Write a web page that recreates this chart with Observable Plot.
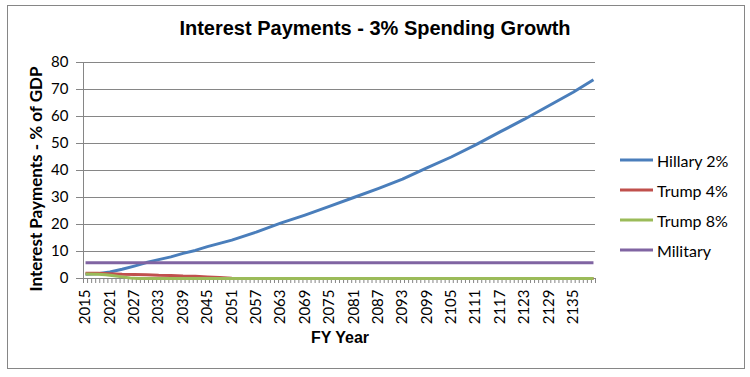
<!DOCTYPE html>
<html>
<head>
<meta charset="utf-8">
<script src="https://cdn.jsdelivr.net/npm/d3@7"></script>
<script src="https://cdn.jsdelivr.net/npm/@observablehq/plot@0.6"></script>
<style>
  html, body { margin: 0; padding: 0; background: #fff; }
  #wrap { position: relative; width: 750px; height: 377px; overflow: hidden; }
  #border { position: absolute; left: 7px; top: 5px; width: 738px; height: 364px; border: 1px solid #868686; box-sizing: border-box; }
  #title { position: absolute; left: 0; width: 750px; top: 17px; text-align: center; font: bold 20px "Liberation Sans", Arial, sans-serif; color: #000; }
  #ytitle { position: absolute; left: 35px; top: 179px; transform: translate(-50%, -50%) rotate(-90deg); white-space: nowrap; font: bold 17px Lato, sans-serif; color: #000; }
  #xtitle { position: absolute; left: 340px; top: 338px; transform: translate(-50%, -50%); white-space: nowrap; font: bold 16px "Liberation Sans", Arial, sans-serif; color: #000; }
  #legend { position: absolute; left: 620px; top: 0; font: 16px Lato, sans-serif; color: #000; }
  .li { position: absolute; left: 0; white-space: nowrap; display: flex; align-items: center; transform: translateY(-50%); }
  .sw { display: inline-block; width: 33px; height: 3px; margin-right: 4px; }
  svg { position: absolute; left: 0; top: 0; }
</style>
</head>
<body>
<div id="wrap">
  <div id="border"></div>
  <div id="chart"></div>
  <div id="title">Interest Payments - 3% Spending Growth</div>
  <div id="ytitle">Interest Payments - % of GDP</div>
  <div id="xtitle">FY Year</div>
  <div id="legend"></div>
</div>
<script>
// ---- data ----
const seriesNames = ["Hillary 2%", "Trump 4%", "Trump 8%", "Military"];
const seriesColors = ["#4A7EBB", "#C0504D", "#9BBB59", "#8064A2"];

const hillaryYears  = [2015, 2018, 2021, 2024, 2027, 2030, 2033, 2036, 2039, 2042, 2045, 2048, 2051, 2057, 2063, 2069, 2075, 2081, 2087, 2093, 2099, 2105, 2111, 2117, 2123, 2129, 2135, 2140];
const hillaryValues = [1.6, 1.8, 2.4, 3.4, 4.6, 5.9, 7.0, 8.0, 9.3, 10.4, 11.8, 13.0, 14.2, 17.2, 20.5, 23.5, 26.7, 30.0, 33.3, 36.8, 41.0, 45.0, 49.5, 54.3, 59.0, 64.0, 69.0, 73.6];

const trump4Years  = [2015, 2018, 2021, 2024, 2027, 2030, 2033, 2036, 2039, 2042, 2045, 2048, 2051, 2053, 2140];
const trump4Values = [1.9, 1.9, 1.8, 1.6, 1.5, 1.4, 1.2, 1.1, 0.9, 0.8, 0.6, 0.4, 0.1, 0, 0];

const trump8Years  = [2015, 2018, 2020, 2022, 2024, 2026, 2028, 2140];
const trump8Values = [1.7, 1.6, 1.4, 1.0, 0.6, 0.2, 0, 0];

const militaryYears  = [2015, 2140];
const militaryValues = [5.8, 5.8];

const xTickYears = [2015, 2021, 2027, 2033, 2039, 2045, 2051, 2057, 2063, 2069, 2075, 2081, 2087, 2093, 2099, 2105, 2111, 2117, 2123, 2129, 2135];
const yTicks = [0, 10, 20, 30, 40, 50, 60, 70, 80];
const firstYear = 2015, lastYear = 2140;

// ---- build rows ----
function rows(name, ys, vs) { return ys.map((y, i) => ({series: name, year: y, value: vs[i]})); }
const data = [
  ...rows(seriesNames[0], hillaryYears, hillaryValues),
  ...rows(seriesNames[1], trump4Years, trump4Values),
  ...rows(seriesNames[2], trump8Years, trump8Values),
  ...rows(seriesNames[3], militaryYears, militaryValues)
];
const boundaries = d3.range(firstYear - 0.5, lastYear + 1, 1);

const chart = Plot.plot({
  width: 750,
  height: 377,
  marginLeft: 83,
  marginRight: 155,
  marginTop: 62,
  marginBottom: 99,
  style: { fontFamily: "Lato, sans-serif", fontSize: "15px", color: "#000", background: "transparent" },
  x: { domain: [firstYear - 0.5, lastYear + 0.5] },
  y: { domain: [0, 80] },
  color: { domain: seriesNames, range: seriesColors },
  marks: [
    Plot.gridY(yTicks, { stroke: "#868686", strokeOpacity: 1, strokeWidth: 1 }),
    Plot.axisY({ ticks: yTicks, tickSize: 7, tickPadding: 8, stroke: "#868686", label: null, fill: "#000" }),
    Plot.ruleX([firstYear - 0.5], { stroke: "#868686" }),
    Plot.axisX({ ticks: boundaries, tickSize: 5, tickFormat: () => "", stroke: "#868686", label: null }),
    Plot.axisX({ ticks: xTickYears, tickSize: 0, tickPadding: 11, tickRotate: -90, tickFormat: d => String(d), label: null, fill: "#000" }),
    Plot.ruleY([0], { stroke: "#868686" }),
    Plot.line(data, { x: "year", y: "value", z: "series", stroke: "series", strokeWidth: 3, strokeLinejoin: "round", strokeLinecap: "butt" })
  ]
});
document.getElementById("chart").appendChild(chart);

// legend
const legend = document.getElementById("legend");
const legendY = [160, 190, 220, 250];
seriesNames.forEach((n, i) => {
  const d = document.createElement("div");
  d.className = "li";
  d.style.top = legendY[i] + "px";
  d.innerHTML = `<span class="sw" style="background:${seriesColors[i]}"></span><span>${n}</span>`;
  legend.appendChild(d);
});
</script>
</body>
</html>
